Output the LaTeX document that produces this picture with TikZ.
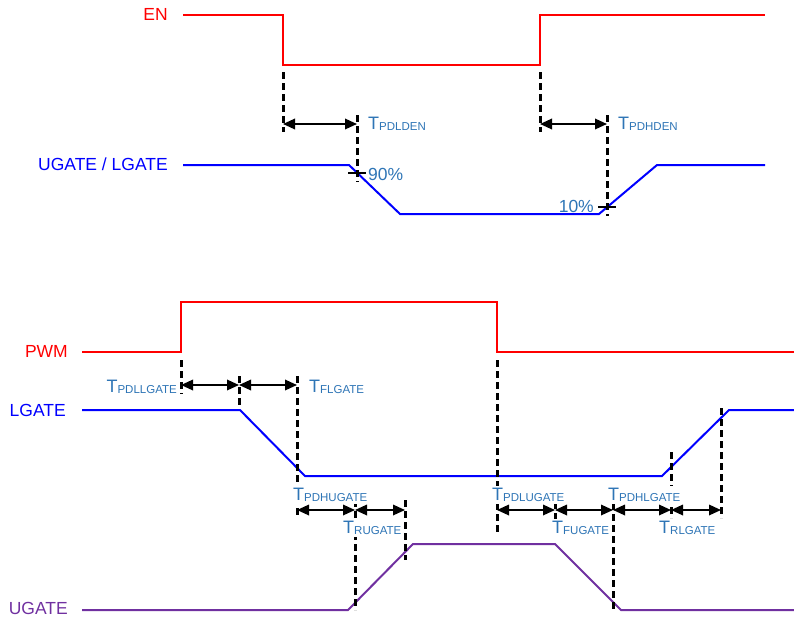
\documentclass[tikz,border=0pt]{standalone}
\usepackage{fontspec}
\setmainfont{Liberation Sans}
\usetikzlibrary{arrows.meta,positioning}
\definecolor{enred}{HTML}{FF0000}
\definecolor{gateblue}{HTML}{0000FF}
\definecolor{ugpurple}{HTML}{7030A0}
\definecolor{timeblue}{HTML}{2E75B6}
\newcommand{\tdly}[1]{T\raisebox{-1.5pt}{\fontsize{11.5}{11.5}\selectfont #1}}

\begin{document}
\begin{tikzpicture}[x=1pt,y=-1pt,>={Triangle[length=12pt,width=10.5pt]},
  sig/.style={line width=2pt},
  guide/.style={line width=3pt,dash pattern=on 7pt off 4pt},
  dim/.style={<->,line width=1.8pt},
  tick/.style={line width=2.6pt},
  signame/.style={anchor=base east,inner sep=0pt,font=\fontsize{17.5}{17.5}\selectfont},
  pct/.style={inner sep=0pt,text=timeblue,font=\fontsize{17.5}{17.5}\selectfont},
  tname/.style={anchor=base west,inner sep=2pt,fill=white,text=timeblue,font=\fontsize{18}{18}\selectfont}]
\useasboundingbox (0,0) rectangle (794,618);

% EN -> UGATE / LGATE
\node[signame,text=enred] (en) at (168,21) {EN};
\node[signame,text=gateblue] (ugl) at (168,170) {UGATE / LGATE};
\draw[sig,enred] (183,15) -- (283,15) -- (283,65) -- (540,65) -- (540,15) -- (765,15);
\draw[sig,gateblue] (183,165) -- (349,165) -- (400,214) -- (599,214) -- (657,165) -- (765,165);

\coordinate (enoff) at (283,124);
\coordinate (g90) at (357,124);
\coordinate (enon) at (540,124);
\coordinate (g10) at (607,124);
\draw[guide] (283,72) -- (283,132);
\draw[guide] (357,115) -- (357,182);
\draw[guide] (540,72) -- (540,132);
\draw[guide] (607,115) -- (607,216);
\draw[dim] (enoff) -- (g90);
\draw[dim] (enon) -- (g10);
\draw[tick] (348,173) -- (366,173);
\draw[tick] (598,207) -- (616,207);

\node[tname] (tpdlden) at (366,129) {\tdly{PDLDEN}};
\node[tname] (tpdhden) at (616,129) {\tdly{PDHDEN}};
\node[pct,anchor=base west] (p90) at (368,180) {90\%};
\node[pct,anchor=base east] (p10) at (594,212) {10\%};

% PWM -> LGATE / UGATE
\node[signame,text=enred] (pwm) at (68,357) {PWM};
\node[signame,text=gateblue] (lg) at (66,416) {LGATE};
\node[signame,text=ugpurple] (ug) at (68,614) {UGATE};
\draw[sig,enred] (82,352) -- (181,352) -- (181,302) -- (497,302) -- (497,352) -- (794,352);
\draw[sig,gateblue] (82,410) -- (240,410) -- (305,476) -- (662,476) -- (729,410) -- (794,410);
\draw[sig,ugpurple] (82,610) -- (348,610) -- (413,544) -- (555,544) -- (621,610) -- (794,610);

\draw[guide] (181,360) -- (181,394);
\draw[guide] (239,376) -- (239,408);
\draw[guide] (297,376) -- (297,518);
\draw[guide] (355,500) -- (355,610);
\draw[guide] (405,500) -- (405,560);
\draw[guide] (497,360) -- (497,535);
\draw[guide] (555,502) -- (555,535);
\draw[guide] (613,503) -- (613,610);
\draw[guide] (671,452) -- (671,518);
\draw[guide] (721,408) -- (721,518);

\node[tname,anchor=base east] (tpdllgate) at (179,392) {\tdly{PDLLGATE}};
\node[tname] (tflgate) at (307,392) {\tdly{FLGATE}};
\node[tname] (tpdhugate) at (291,500) {\tdly{PDHUGATE}};
\node[tname] (trugate) at (341,533) {\tdly{RUGATE}\hspace{8pt}};
\node[tname] (tpdlugate) at (490,500) {\tdly{PDLUGATE}};
\node[tname] (tfugate) at (550,533) {\tdly{FUGATE}\hspace{8pt}};
\node[tname] (tpdhlgate) at (606,500) {\tdly{PDHLGATE}};
\node[tname] (trlgate) at (657,533) {\tdly{RLGATE}};

\coordinate (pwmup) at (181,385);
\coordinate (lgfall) at (239,385);
\coordinate (lglow) at (297,385);
\coordinate (uga) at (297,510);
\coordinate (ugb) at (355,510);
\coordinate (ugc) at (405,510);
\coordinate (ugd) at (497,510);
\coordinate (uge) at (555,510);
\coordinate (ugf) at (613,510);
\coordinate (ugg) at (671,510);
\coordinate (ugh) at (721,510);
\draw[dim] (pwmup) -- (lgfall);
\draw[dim] (lgfall) -- (lglow);
\draw[dim] (uga) -- (ugb);
\draw[dim] (ugb) -- (ugc);
\draw[dim] (ugd) -- (uge);
\draw[dim] (uge) -- (ugf);
\draw[dim] (ugf) -- (ugg);
\draw[dim] (ugg) -- (ugh);
\end{tikzpicture}
\end{document}
